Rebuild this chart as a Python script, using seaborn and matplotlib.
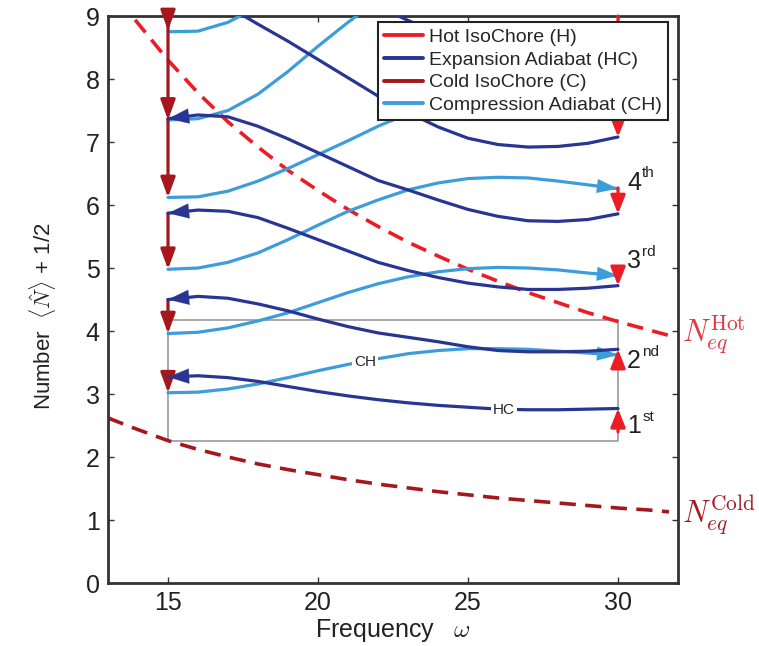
import matplotlib
matplotlib.use('Agg')
import matplotlib.pyplot as plt
from matplotlib.lines import Line2D
import seaborn as sns

omega = [15, 16, 17, 18, 19, 20, 21, 22, 23, 24, 25, 26, 27, 28, 29, 30]

# expansion adiabats (HC), run from omega=30 back to omega=15
hc1 = [3.27, 3.29, 3.26, 3.20, 3.12, 3.04, 2.97, 2.91, 2.86, 2.82, 2.79, 2.76, 2.75, 2.75, 2.76, 2.77]
hc2 = [4.50, 4.55, 4.52, 4.43, 4.32, 4.19, 4.07, 3.97, 3.90, 3.83, 3.75, 3.69, 3.67, 3.67, 3.68, 3.71]
hc3 = [5.87, 5.92, 5.90, 5.80, 5.63, 5.45, 5.27, 5.09, 4.96, 4.85, 4.76, 4.70, 4.66, 4.66, 4.68, 4.72]
hc4 = [7.37, 7.43, 7.40, 7.25, 7.05, 6.83, 6.61, 6.39, 6.24, 6.08, 5.93, 5.82, 5.75, 5.74, 5.77, 5.86]
hc5 = [9.45, 9.40, 9.15, 8.87, 8.60, 8.31, 8.02, 7.73, 7.47, 7.24, 7.06, 6.96, 6.92, 6.93, 6.98, 7.08]
hc6 = [10.6, 10.6, 10.5, 10.3, 10.0, 9.70, 9.40, 9.15, 8.93, 8.72, 8.55, 8.42, 8.35, 8.34, 8.36, 8.40]

# compression adiabats (CH), run from omega=15 to omega=30
ch1 = [3.02, 3.03, 3.08, 3.16, 3.26, 3.37, 3.47, 3.56, 3.64, 3.69, 3.72, 3.72, 3.71, 3.68, 3.65, 3.62]
ch2 = [3.96, 3.98, 4.05, 4.16, 4.29, 4.45, 4.61, 4.75, 4.86, 4.94, 4.99, 5.01, 5.00, 4.97, 4.92, 4.88]
ch3 = [4.98, 5.00, 5.09, 5.24, 5.45, 5.68, 5.90, 6.08, 6.24, 6.35, 6.42, 6.44, 6.43, 6.38, 6.32, 6.26]
ch4 = [6.12, 6.13, 6.22, 6.38, 6.58, 6.80, 7.02, 7.25, 7.45, 7.62, 7.72, 7.76, 7.75, 7.70, 7.62, 7.55]
ch5 = [7.35, 7.37, 7.50, 7.76, 8.12, 8.52, 8.90, 9.25, 9.55, 9.75, 9.85, 9.90, 9.90, 9.85, 9.75, 9.65]
ch6 = [8.75, 8.76, 8.90, 9.15, 9.50, 9.85, 10.2, 10.5, 10.7, 10.9, 11.0, 11.0, 11.0, 10.9, 10.8, 10.7]

# thermal equilibrium occupations
omega_eq = [13.0, 13.8, 15, 16, 17, 18, 19, 20, 21, 22, 23, 24, 25, 26, 27, 28, 29, 30, 31, 31.7]
n_eq_hot = [9.55, 9.00, 8.30, 7.78, 7.32, 6.92, 6.55, 6.23, 5.93, 5.66, 5.41, 5.19, 4.98, 4.79,
            4.61, 4.45, 4.29, 4.15, 4.02, 3.93]
n_eq_cold = [2.62, 2.47, 2.26, 2.12, 2.00, 1.89, 1.80, 1.72, 1.64, 1.57, 1.51, 1.45, 1.40, 1.35,
             1.31, 1.27, 1.23, 1.19, 1.16, 1.13]

# isochores: (start, end) of each stroke
cold_iso = [(3.27, 3.02), (4.50, 3.96), (5.87, 4.98), (7.37, 6.12), (9.00, 7.35), (9.00, 8.77)]
hot_iso = [(2.40, 2.77), (3.45, 3.71), (4.92, 4.72), (6.27, 5.86), (7.55, 7.08), (9.00, 8.40)]

# ideal cycle box
box_omega = [15, 30, 30, 15, 15]
box_n = [2.25, 2.25, 4.18, 4.18, 2.25]

cycle_labels = [('1', 'st', 2.38), ('2', 'nd', 3.41), ('3', 'rd', 5.0), ('4', 'th', 6.24)]

c_hot = '#ec1c24'
c_hc = '#283593'
c_cold = '#a6171d'
c_ch = '#3d9ddb'

sns.set_style('ticks')
plt.rcParams['font.family'] = ['Liberation Sans', 'DejaVu Sans']
plt.rcParams['mathtext.fontset'] = 'cm'

fig = plt.figure(figsize=(7.59, 6.46), dpi=100)
ax = fig.add_axes([0.1423, 0.0975, 0.751, 0.8777])


def arrow(x0, y0, x1, y1, color, lw, hl, hw, ms=20):
    ax.annotate('', xy=(x1, y1), xytext=(x0, y0),
                arrowprops=dict(arrowstyle=f'-|>,head_length={hl},head_width={hw}',
                                color=color, lw=lw, shrinkA=0, shrinkB=0,
                                mutation_scale=ms))


# gray box
sns.lineplot(x=box_omega, y=box_n, ax=ax, color='#9a9a9a', lw=1.2, sort=False,
             estimator=None, zorder=1)

# equilibrium curves
sns.lineplot(x=omega_eq, y=n_eq_hot, ax=ax, color=c_hot, lw=2.6, zorder=2).lines[-1].set_dashes((4.5, 2.6))
sns.lineplot(x=omega_eq, y=n_eq_cold, ax=ax, color=c_cold, lw=2.6, zorder=2).lines[-1].set_dashes((4.5, 2.6))

# adiabats
for ys in [ch1, ch2, ch3, ch4, ch5, ch6]:
    sns.lineplot(x=omega, y=ys, ax=ax, color=c_ch, lw=2.3, zorder=3)
    if ys[-1] < 9:
        arrow(omega[-2], ys[-2], omega[-1], ys[-1], c_ch, 0.1, 0.75, 0.25)
for ys in [hc1, hc2, hc3, hc4, hc5, hc6]:
    sns.lineplot(x=omega, y=ys, ax=ax, color=c_hc, lw=2.3, zorder=4)
    if ys[0] < 9:
        arrow(omega[1], ys[1], omega[0], ys[0], c_hc, 0.1, 0.75, 0.27)

# isochores
for a, b in cold_iso:
    arrow(15, a, 15, b, c_cold, 2.3, 0.6, 0.22)
for a, b in hot_iso:
    arrow(30, a, 30, b, c_hot, 2.3, 0.55, 0.22)

# inline labels
ax.text(21.57, 3.51, 'CH', ha='center', va='center', fontsize=11, zorder=6,
        bbox=dict(fc='white', ec='none', pad=1.2))
ax.text(26.2, 2.75, 'HC', ha='center', va='center', fontsize=11, zorder=6,
        bbox=dict(fc='white', ec='none', pad=1.2))

for num, sup, yb in cycle_labels:
    ax.text(30.3, yb, num, fontsize=18, ha='left', va='baseline', color='#222')
    ax.annotate(sup, xy=(30.3, yb), xytext=(11, 9), textcoords='offset points',
                fontsize=11, ha='left', va='baseline', color='#222')

ax.text(32.13, 3.94, r'$N_{eq}^{\rm Hot}$', color='#e03a3e', fontsize=22,
        ha='left', va='center', clip_on=False)
ax.text(32.13, 1.08, r'$N_{eq}^{\rm Cold}$', color='#a31c24', fontsize=22,
        ha='left', va='center', clip_on=False)

ax.set_xlim(13, 32)
ax.set_ylim(0, 9)
ax.set_xticks([15, 20, 25, 30])
ax.set_yticks(range(10))
ax.tick_params(direction='in', top=True, right=True, length=4, width=1,
               labelsize=18, color='#333', labelcolor='#222', pad=6)
for s in ax.spines.values():
    s.set_linewidth(2)
    s.set_color('#333')

ax.set_xlabel(r'Frequency   $\omega$', fontsize=18, color='#222', labelpad=1)
ax.set_ylabel(r'Number  $\langle\hat{N}\rangle$ + 1/2', fontsize=16, color='#222')
ax.yaxis.set_label_coords(-0.088, 0.47)

handles = [Line2D([], [], color=c_hot, lw=2.8), Line2D([], [], color=c_hc, lw=2.8),
           Line2D([], [], color=c_cold, lw=2.8), Line2D([], [], color=c_ch, lw=2.8)]
labels = ['Hot IsoChore (H)', 'Expansion Adiabat (HC)', 'Cold IsoChore (C)',
          'Compression Adiabat (CH)']
leg = ax.legend(handles, labels, loc='upper right', bbox_to_anchor=(0.982, 0.989),
                fontsize=14, frameon=True, fancybox=False, edgecolor='#222',
                framealpha=1, borderpad=0.3, labelspacing=0.27, handlelength=2.0,
                handletextpad=0.3, borderaxespad=0)
leg.get_frame().set_linewidth(1.5)
leg.set_zorder(10)

fig.savefig('out.png', dpi=100)
